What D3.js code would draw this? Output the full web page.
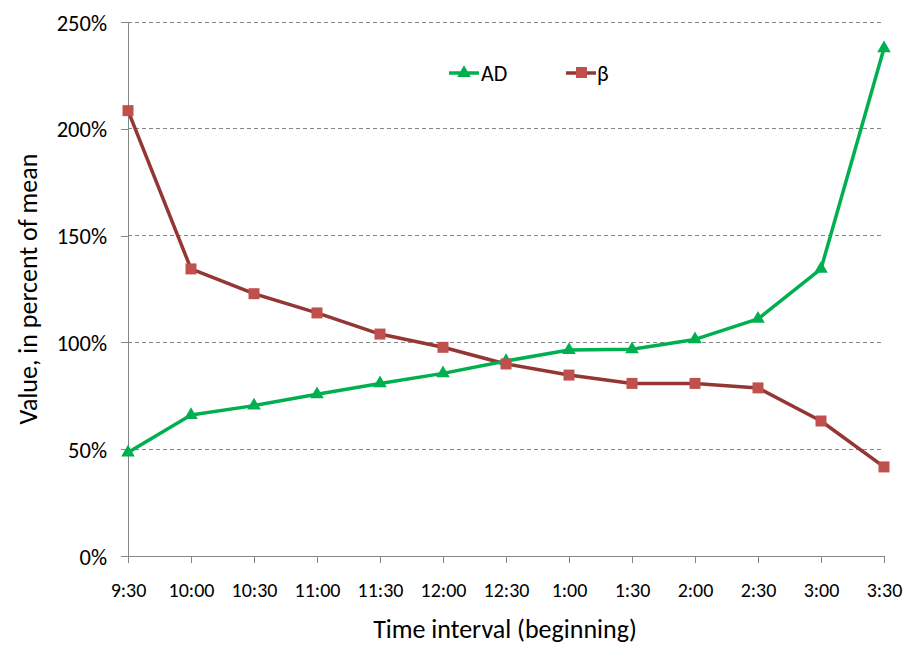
<!DOCTYPE html>
<html><head><meta charset="utf-8">
<script src="https://cdn.jsdelivr.net/npm/d3@7"></script>
<style>body{margin:0;background:#fff}svg{display:block}text{font-family:Calibri,Carlito,"Open Sans",sans-serif;fill:#000}</style>
</head><body>
<svg id="c" width="913" height="663"></svg>
<script>
const categories = ["9:30","10:00","10:30","11:00","11:30","12:00","12:30","1:00","1:30","2:00","2:30","3:00","3:30"];
const adValues = [48.4, 66.0, 70.4, 75.7, 80.8, 85.5, 91.3, 96.4, 96.8, 101.4, 111.0, 134.4, 237.7];
const betaValues = [208.5, 134.4, 122.8, 113.8, 103.9, 97.7, 89.9, 84.7, 80.8, 80.8, 78.7, 63.2, 41.7];
const yTicks = [0, 50, 100, 150, 200, 250];

(function(){
const svg = d3.select("#c");
const mLeft = 128, mRight = 884, mTop = 22, mBottom = 556;
const x = d3.scalePoint().domain(categories).range([mLeft, mRight]);
const y = d3.scaleLinear().domain([0, 250]).range([mBottom, mTop]);
const font = 'Calibri,Carlito,"Open Sans",sans-serif';

svg.append("g").selectAll("line").data(yTicks.filter(d => d > 0)).join("line")
  .attr("x1", mLeft).attr("x2", mRight).attr("y1", d => y(d)).attr("y2", d => y(d))
  .attr("stroke", "#868686").attr("stroke-dasharray", "4,3").attr("stroke-width", 1).attr("shape-rendering","crispEdges");

const ya = svg.append("g").attr("transform", `translate(${mLeft},0)`)
  .call(d3.axisLeft(y).tickValues(yTicks).tickFormat(d => d + "%").tickSize(7).tickPadding(14));
ya.select(".domain").attr("stroke", "#868686").attr("d", `M-7,${mBottom}H0V${mTop}H-7`);
ya.selectAll(".tick line").attr("stroke", "#868686");
ya.selectAll(".tick text").attr("font-size", 22.5).attr("font-family", font).attr("fill","#000").attr("dy","0.36em");
ya.attr("shape-rendering","crispEdges");

const xa = svg.append("g").attr("transform", `translate(0,${mBottom})`)
  .call(d3.axisBottom(x).tickSize(7).tickPadding(20));
xa.select(".domain").attr("stroke", "#868686").attr("d", `M${mLeft},0H${mRight}`);
xa.selectAll(".tick line").attr("stroke", "#868686");
xa.selectAll(".tick text").attr("font-size", 20).attr("font-family", font).attr("fill","#000");
xa.attr("shape-rendering","crispEdges");

svg.append("text").attr("x", 505).attr("y", 638).attr("text-anchor", "middle")
  .attr("font-size", 26).text("Time interval (beginning)");
svg.append("text").attr("transform", `translate(37,289) rotate(-90)`).attr("text-anchor", "middle")
  .attr("font-size", 26).text("Value, in percent of mean");

const line = d3.line().x((d, i) => x(categories[i])).y(d => y(d));
const green = "#00B050", redLine = "#943634", redMark = "#C0504D";

svg.append("path").datum(betaValues).attr("d", line).attr("fill", "none").attr("stroke", redLine).attr("stroke-width", 3.5).attr("stroke-linejoin","round");
svg.append("path").datum(adValues).attr("d", line).attr("fill", "none").attr("stroke", green).attr("stroke-width", 3.5).attr("stroke-linejoin","round");

const tri = d3.symbol().type(d3.symbolTriangle).size(80);
svg.append("g").selectAll("path").data(adValues).join("path")
  .attr("d", tri).attr("transform", (d, i) => `translate(${x(categories[i])},${y(d)})`).attr("fill", green);
svg.append("g").selectAll("rect").data(betaValues).join("rect")
  .attr("x", (d, i) => x(categories[i]) - 5.5).attr("y", d => y(d) - 5.5).attr("width", 11).attr("height", 11).attr("fill", redMark);

const lg = svg.append("g");
lg.append("line").attr("x1", 449).attr("x2", 479).attr("y1", 73).attr("y2", 73).attr("stroke", green).attr("stroke-width", 3.5);
lg.append("path").attr("d", tri).attr("transform", "translate(464,73)").attr("fill", green);
lg.append("text").attr("x", 481).attr("y", 81).attr("font-size", 22).text("AD");
lg.append("line").attr("x1", 566).attr("x2", 596).attr("y1", 73).attr("y2", 73).attr("stroke", redLine).attr("stroke-width", 3.5);
lg.append("rect").attr("x", 576).attr("y", 67).attr("width", 11).attr("height", 11).attr("fill", redMark);
lg.append("text").attr("x", 597).attr("y", 81).attr("font-size", 22).text("β");
})();
</script>
</body></html>
